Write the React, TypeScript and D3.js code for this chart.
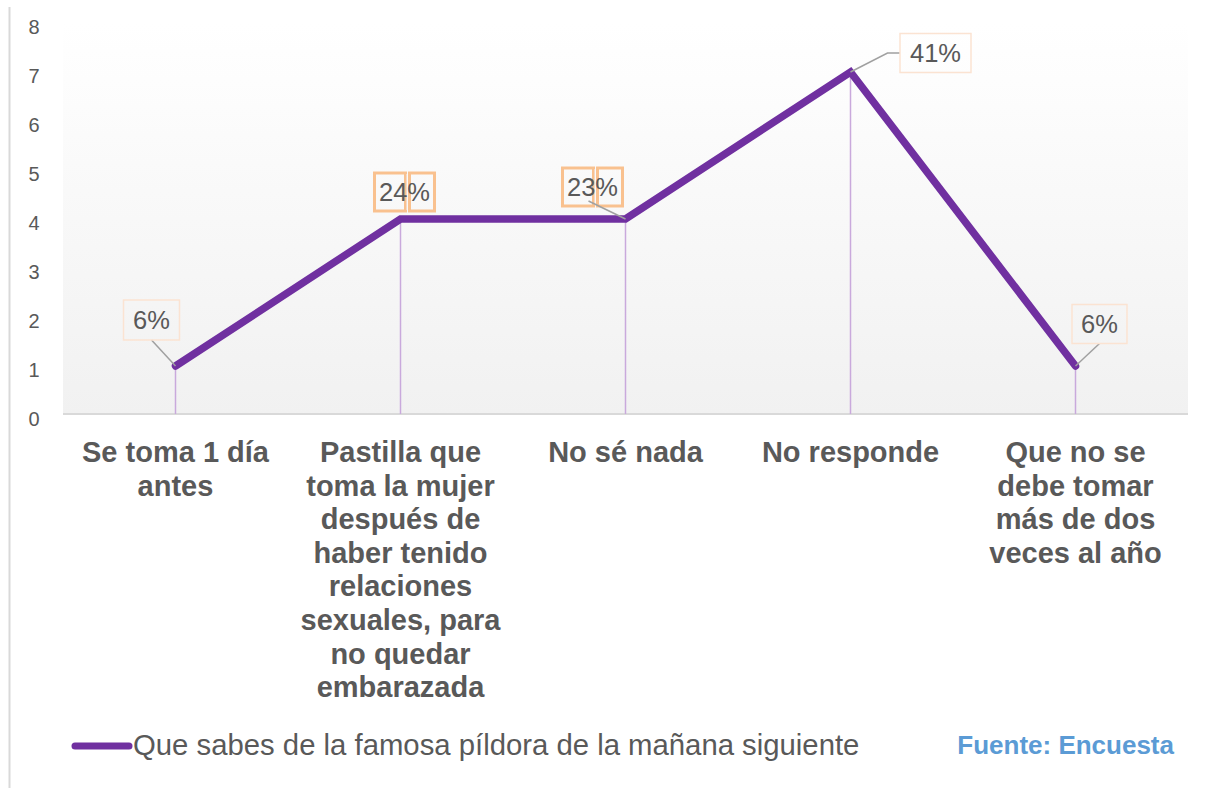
import React from "react";
import * as d3 from "d3";

const categories: string[][] = [
  ["Se toma 1 día", "antes"],
  ["Pastilla que", "toma la mujer", "después de", "haber tenido", "relaciones", "sexuales, para", "no quedar", "embarazada"],
  ["No sé nada"],
  ["No responde"],
  ["Que no se", "debe tomar", "más de dos", "veces al año"],
];
const values: number[] = [1, 4, 4, 7, 1];
const percentLabels: string[] = ["6%", "24%", "23%", "41%", "6%"];
const yTicks: number[] = [0, 1, 2, 3, 4, 5, 6, 7, 8];
const seriesName = "Que sabes de la famosa píldora de la mañana siguiente";
const sourceText = "Fuente: Encuesta";

const W = 1217;
const H = 788;
const plotLeft = 63;
const plotRight = 1188;
const plotTop = 23;
const plotBottom = 415;
const PURPLE = "#7030a0";
const GRAY = "#595959";
const FONT = "'Liberation Sans', Arial, sans-serif";
const LABEL_FS = 25.5;

export default function App() {
  const x = d3
    .scaleBand<number>()
    .domain(values.map((_, i) => i))
    .range([plotLeft, plotRight]);
  const y = d3.scaleLinear().domain([0, 8]).range([plotBottom, plotTop]);
  const cx = (i: number) => (x(i) as number) + x.bandwidth() / 2;
  const line = d3
    .line<number>()
    .x((_, i) => cx(i))
    .y((d) => y(d));

  const labelLayout = [
    { dx: -24, dy: -46, w: 56, h: 40, style: "light" },
    { dx: 4, dy: -27, w: 0, h: 0, style: "double" },
    { dx: -33, dy: -32, w: 0, h: 0, style: "double" },
    { dx: 85, dy: -19, w: 71, h: 39, style: "light" },
    { dx: 24, dy: -42, w: 55, h: 39, style: "light" },
  ];

  return (
    <svg
      width={W}
      height={H}
      style={{ position: "absolute", left: 0, top: 0, background: "#fff" }}
      fontFamily={FONT}
    >
      <defs>
        <linearGradient id="bg" x1="0" y1="0" x2="0" y2="1">
          <stop offset="0" stopColor="#ffffff" />
          <stop offset="1" stopColor="#f1f1f1" />
        </linearGradient>
      </defs>
      <line x1={9.5} y1={7} x2={9.5} y2={H} stroke="#d9d9d9" strokeWidth={2} />
      <rect
        x={plotLeft}
        y={plotTop}
        width={plotRight - plotLeft}
        height={plotBottom - plotTop}
        fill="url(#bg)"
      />
      <line
        x1={plotLeft}
        x2={plotRight}
        y1={plotBottom - 1}
        y2={plotBottom - 1}
        stroke="#d9d9d9"
        strokeWidth={2}
      />
      {yTicks.map((t) => (
        <text key={t} x={34} y={y(t) + 11} textAnchor="middle" fontSize={20} fill={GRAY}>
          {t}
        </text>
      ))}
      {values.map((v, i) => (
        <line
          key={i}
          x1={cx(i)}
          x2={cx(i)}
          y1={y(v)}
          y2={plotBottom - 1}
          stroke="#c9a9dc"
          strokeWidth={1.5}
        />
      ))}
      <path
        d={line(values) as string}
        fill="none"
        stroke={PURPLE}
        strokeWidth={7.5}
        strokeLinejoin="miter"
        strokeLinecap="round"
      />
      {values.map((v, i) => {
        const px = cx(i);
        const py = y(v);
        const L = labelLayout[i];
        const tx = px + L.dx;
        const ty = py + L.dy;
        if (L.style === "double") {
          return (
            <g key={i}>
              <rect x={tx - 30} y={ty - 19} width={31} height={38} fill="none" stroke="#f9c18f" strokeWidth={3} />
              <rect x={tx + 5} y={ty - 19} width={25} height={38} fill="none" stroke="#f9c18f" strokeWidth={3} />
              <line x1={tx + 2} x2={tx + 2} y1={ty - 18} y2={ty + 18} stroke="#f4d9c6" strokeWidth={1} />
              {i === 2 && (
                <line x1={tx - 4} y1={ty + 14} x2={px} y2={py} stroke="#a0a0a0" strokeWidth={1.5} />
              )}
              <text x={tx} y={ty + 9} textAnchor="middle" fontSize={LABEL_FS} fill={GRAY}>
                {percentLabels[i]}
              </text>
            </g>
          );
        }
        const leader =
          i === 3
            ? `M${px},${py}L${px + 37},${py - 19}L${tx - L.w / 2},${py - 19}`
            : `M${px},${py}L${tx},${ty + L.h / 2}`;
        return (
          <g key={i}>
            <path d={leader} fill="none" stroke="#a0a0a0" strokeWidth={1.5} />
            <rect
              x={tx - L.w / 2}
              y={ty - L.h / 2}
              width={L.w}
              height={L.h}
              fill="none"
              stroke="#fbe3d2"
              strokeWidth={1.5}
            />
            <text x={tx} y={ty + 9} textAnchor="middle" fontSize={LABEL_FS} fill={GRAY}>
              {percentLabels[i]}
            </text>
          </g>
        );
      })}
      {categories.map((lines, i) => (
        <text key={i} textAnchor="middle" fontSize={29} fontWeight="bold" fill={GRAY}>
          {lines.map((ln, j) => (
            <tspan key={j} x={cx(i)} y={462 + j * 33.6}>
              {ln}
            </tspan>
          ))}
        </text>
      ))}
      <line x1={75} x2={129} y1={746} y2={746} stroke={PURPLE} strokeWidth={7} strokeLinecap="round" />
      <text x={133} y={755} fontSize={29.3} fill={GRAY}>
        {seriesName}
      </text>
      <text x={1174} y={754} fontSize={26} fontWeight="bold" fill="#5b9bd5" textAnchor="end">
        {sourceText}
      </text>
    </svg>
  );
}
